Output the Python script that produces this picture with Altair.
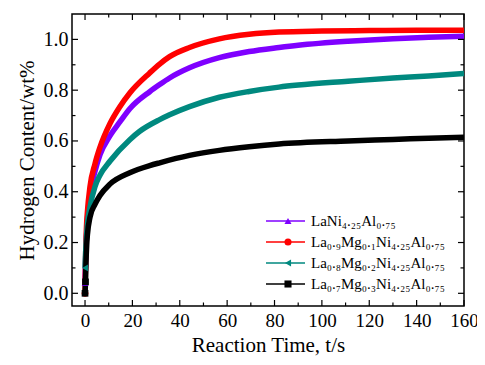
import altair as alt
import pandas as pd

# ---------------- data ----------------
names = [
    "LaNi₄.₂₅Al₀.₇₅",
    "La₀.₉Mg₀.₁Ni₄.₂₅Al₀.₇₅",
    "La₀.₈Mg₀.₂Ni₄.₂₅Al₀.₇₅",
    "La₀.₇Mg₀.₃Ni₄.₂₅Al₀.₇₅",
]
colors = ["#7F00FF", "#FF0000", "#00897F", "#000000"]
marker_shapes = ["triangle-up", "circle", "triangle-left", "square"]

t_purple = [0.0, 0.3, 0.6, 1.0, 2.1, 4.2, 6.3, 10.5, 14.7, 18.9, 27.3, 31.5, 35.7, 44.1, 56.7, 69.3, 81.9, 90, 111, 130, 145, 160]
v_purple = [0.04, 0.15, 0.22, 0.29, 0.39, 0.48, 0.545, 0.62, 0.675, 0.727, 0.794, 0.822, 0.848, 0.888, 0.928, 0.952, 0.968, 0.977, 0.993, 1.003, 1.008, 1.012]

t_red = [0.0, 0.3, 0.6, 1.0, 2.1, 4.2, 6.3, 10.5, 14.7, 18.9, 27.3, 31.5, 35.7, 44.1, 56.7, 69.3, 81.9, 100, 120, 140, 160]
v_red = [0.0, 0.17, 0.26, 0.32, 0.42, 0.51, 0.575, 0.668, 0.735, 0.789, 0.868, 0.903, 0.932, 0.968, 1.002, 1.02, 1.029, 1.033, 1.035, 1.036, 1.036]

t_teal = [0.0, 0.3, 0.6, 1.0, 2.1, 4.2, 6.3, 10.5, 18.9, 23.1, 31.5, 35.7, 44.1, 56.7, 69.3, 81.9, 90, 111, 130, 145, 160]
v_teal = [0.1, 0.17, 0.22, 0.27, 0.34, 0.42, 0.465, 0.52, 0.605, 0.638, 0.684, 0.703, 0.735, 0.772, 0.795, 0.812, 0.82, 0.835, 0.848, 0.856, 0.866]

t_black = [0.0, 0.2, 0.4, 0.7, 1.0, 2.1, 4.2, 6.3, 10.5, 18.9, 27.3, 31.5, 44.1, 56.7, 69.3, 81.9, 111, 130, 145, 160]
v_black = [0.0, 0.045, 0.12, 0.19, 0.23, 0.30, 0.35, 0.385, 0.43, 0.475, 0.503, 0.514, 0.543, 0.563, 0.577, 0.588, 0.6, 0.606, 0.611, 0.615]

x_major = [0, 20, 40, 60, 80, 100, 120, 140, 160]
x_minor = [10, 30, 50, 70, 90, 110, 130, 150]
y_major = [0.0, 0.2, 0.4, 0.6, 0.8, 1.0]
y_minor = [0.1, 0.3, 0.5, 0.7, 0.9]

x_domain = [-5.5, 160]
y_domain = [-0.05, 1.1]

# ---------------- build tables ----------------
rows = []
for name, ts, vs in zip(names, [t_purple, t_red, t_teal, t_black],
                        [v_purple, v_red, v_teal, v_black]):
    for i, (t, v) in enumerate(zip(ts, vs)):
        rows.append({"series": name, "t": t, "v": v, "i": i})
df = pd.DataFrame(rows)
leg_df = pd.DataFrame({"series": names, "row": list(range(len(names)))})

W, H = 392, 292
FONT = "Liberation Serif"

xs = alt.Scale(domain=x_domain, nice=False, zero=False)
ys = alt.Scale(domain=y_domain, nice=False, zero=False)
cs = alt.Scale(domain=names, range=colors)
ss = alt.Scale(domain=names, range=marker_shapes)

x_enc = alt.X("t:Q", scale=xs, title="Reaction Time, t/s",
              axis=alt.Axis(values=x_major, ticks=False, domain=False, grid=False,
                            labelFont=FONT, labelFontSize=19, labelColor="black",
                            labelFlush=False, labelOverlap=False,
                            titleFont=FONT, titleFontSize=21, titleFontWeight="normal",
                            titleColor="black", labelPadding=5, titlePadding=4))
y_enc = alt.Y("v:Q", scale=ys, title="Hydrogen Content/wt%",
              axis=alt.Axis(values=y_major, format=".1f", ticks=False, domain=False, grid=False,
                            labelFont=FONT, labelFontSize=20, labelColor="black",
                            labelFlush=False, labelOverlap=False,
                            titleFont=FONT, titleFontSize=21, titleFontWeight="normal",
                            titleColor="black", labelPadding=4, titlePadding=6))

lines = alt.Chart(df).mark_line(strokeWidth=5.5, interpolate="monotone", clip=True).encode(
    x=x_enc, y=y_enc,
    color=alt.Color("series:N", scale=cs, legend=None),
    order="i:Q",
)

start_pts = alt.Chart(df).transform_filter("datum.t <= 0.25").mark_point(
    filled=True, size=45, opacity=1, clip=True).encode(
    x=alt.X("t:Q", scale=xs), y=alt.Y("v:Q", scale=ys),
    color=alt.Color("series:N", scale=cs, legend=None),
    shape=alt.Shape("series:N", scale=ss, legend=None),
)

tick_layers = []
def tick_df(vals):
    return pd.DataFrame({"t": vals, "v": vals})

for vals, ln in [(x_major, 6), (x_minor, 3.5)]:
    base = alt.Chart(tick_df(vals)).mark_rule(color="black", strokeWidth=1.2)
    tick_layers.append(base.encode(x=alt.X("t:Q", scale=xs), y=alt.value(H), y2=alt.value(H - ln)))
    tick_layers.append(base.encode(x=alt.X("t:Q", scale=xs), y=alt.value(0), y2=alt.value(ln)))
for vals, ln in [(y_major, 6), (y_minor, 3.5)]:
    base = alt.Chart(tick_df(vals)).mark_rule(color="black", strokeWidth=1.2)
    tick_layers.append(base.encode(y=alt.Y("v:Q", scale=ys), x=alt.value(0), x2=alt.value(ln)))
    tick_layers.append(base.encode(y=alt.Y("v:Q", scale=ys), x=alt.value(W), x2=alt.value(W - ln)))

main = alt.layer(lines, start_pts, *tick_layers)

# ---------------- legend (line + marker + label per series) ----------------
rs = alt.Scale(domain=[0, len(names) - 1], range=[207, 270])
leg_y = alt.Y("row:Q", scale=rs, axis=None)
leg_base = alt.Chart(leg_df)
leg_lines = leg_base.mark_rule(strokeWidth=1.4).encode(
    x=alt.value(194), x2=alt.value(233), y=leg_y,
    color=alt.Color("series:N", scale=cs, legend=None),
)
leg_pts = leg_base.mark_point(filled=True, size=50, opacity=1).encode(
    x=alt.value(216), y=leg_y,
    color=alt.Color("series:N", scale=cs, legend=None),
    shape=alt.Shape("series:N", scale=ss, legend=None),
)
leg_text = leg_base.mark_text(align="left", baseline="middle", font=FONT, fontSize=15,
                              color="black").encode(
    x=alt.value(239), y=leg_y, text="series:N",
)
legend = alt.layer(leg_lines, leg_pts, leg_text)

chart = alt.layer(main, legend).resolve_scale(y="independent").properties(
    width=W, height=H,
    autosize=alt.AutoSizeParams(type="none"),
    padding={"left": 64, "top": 6, "right": 13, "bottom": 51},
).configure_view(stroke="black", strokeWidth=1.5)

chart.save("out.html", embed_options={"renderer": "svg", "actions": False})
